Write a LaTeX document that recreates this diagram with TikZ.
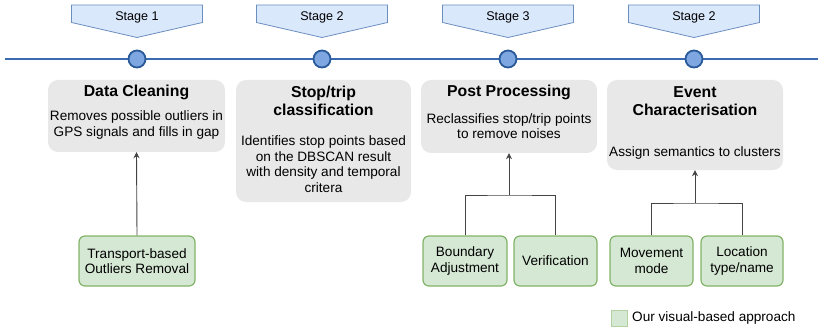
\documentclass[tikz,border=0pt]{standalone}
\usepackage{fontspec}
\setmainfont{Liberation Sans}
\usetikzlibrary{arrows.meta,positioning,calc}

\definecolor{tabfill}{HTML}{DAE8FC}
\definecolor{tabline}{HTML}{6C8EBF}
\definecolor{axisblue}{HTML}{3A6BB0}
\definecolor{dotfill}{HTML}{7EA6E0}
\definecolor{dotline}{HTML}{2A5A9A}
\definecolor{phasegray}{HTML}{E8E8E8}
\definecolor{greenfill}{HTML}{D5E8D4}
\definecolor{greenline}{HTML}{82B366}
\definecolor{linkgray}{HTML}{444444}

\newcommand{\titlefont}{\fontsize{15.8}{18}\selectfont\bfseries}
\newcommand{\bodyfont}{\fontsize{13.6}{15.5}\selectfont}

\begin{document}
\begin{tikzpicture}[x=1pt,y=-1pt,
  stagetab/.style={fill=tabfill, draw=tabline, line width=0.8pt},
  dot/.style={circle, minimum size=17pt, inner sep=0pt, fill=dotfill, draw=dotline, line width=1.8pt},
  phase/.style={rounded corners=10pt, fill=phasegray, inner sep=0pt},
  method/.style={rounded corners=6pt, fill=greenfill, draw=greenline, line width=1.2pt,
    align=center, font=\bodyfont, inner sep=0pt},
  head/.style={align=center, font=\titlefont, inner sep=0pt},
  desc/.style={align=center, font=\bodyfont, inner sep=0pt},
  link/.style={linkgray, line width=0.9pt},
  arr/.style={link, -{Stealth[length=6pt,width=6pt]}}]

  \useasboundingbox (0,0) rectangle (818,331);

  % Timeline
  \draw[axisblue, line width=1.5pt] (5,59) -- (818,59);

  % Stage tabs and dots
  \foreach \x/\lab [count=\i] in {137/Stage 1, 322/Stage 2, 508/Stage 3, 694/Stage 2} {
    \draw[stagetab] (\x-65.5,5) -- (\x+65.5,5) -- (\x+65.5,22.5) -- (\x,37.5)
      -- (\x-65.5,22.5) -- cycle;
    \node[font=\fontsize{12.6}{14}\selectfont] (tab\i) at (\x,17.5) {\lab};
    \node[dot] (s\i) at (\x,59) {};
  }

  % Phases
  \node[phase, minimum width=177pt, minimum height=72pt] (clean) at (136.5,116) {};
  \node[head] (cleanhead) at (136.5,92) {Data Cleaning};
  \node[desc] (cleantext) at (136.5,125) {Removes possible outliers in\\GPS signals and fills in gap};

  \node[phase, minimum width=175pt, minimum height=122pt] (stoptrip) at (323.5,141) {};
  \node[head] (stophead) at (323.5,101) {Stop/trip\\classification};
  \node[desc] (stoptext) at (323.5,164) {Identifies stop points based\\on the DBSCAN result\\with density and temporal\\critera};

  \node[phase, minimum width=176pt, minimum height=73pt] (post) at (509,116.5) {};
  \node[head] (posthead) at (509,92) {Post Processing};
  \node[desc] (posttext) at (509,126) {Reclassifies stop/trip points\\to remove noises};

  \node[phase, minimum width=176pt, minimum height=90pt] (event) at (695,125) {};
  \node[head] (eventhead) at (695,101) {Event\\Characterisation};
  \node[desc] (eventtext) at (695,153) {Assign semantics to clusters};

  % Our methods
  \node[method, minimum width=116pt, minimum height=50pt] (outlier) at (137,261) {Transport-based\\Outliers Removal};
  \node[method, minimum width=84pt, minimum height=50pt] (boundary) at (465,261) {Boundary\\Adjustment};
  \node[method, minimum width=83pt, minimum height=50pt] (verify) at (555.5,261) {Verification};
  \node[method, minimum width=83pt, minimum height=50pt] (mode) at (651.5,261) {Movement\\mode};
  \node[method, minimum width=82pt, minimum height=50pt] (location) at (742,261) {Location\\type/name};

  % Links
  \draw[arr] (outlier.north) -- (clean.south);
  \coordinate (postjoin) at (509,195);
  \draw[link] (boundary.north) |- (postjoin) -| (verify.north);
  \draw[arr] (postjoin) -- (post.south);
  \coordinate (eventjoin) at (695,203);
  \draw[link] (mode.north) |- (eventjoin) -| (location.north);
  \draw[arr] (eventjoin) -- (event.south);

  % Legend
  \node[fill=greenfill, draw=greenline!60, line width=0.8pt, minimum size=16pt, inner sep=0pt] (key) at (619,318) {};
  \node[desc, anchor=west] (keytext) at (632,318) {Our visual-based approach};
\end{tikzpicture}
\end{document}
